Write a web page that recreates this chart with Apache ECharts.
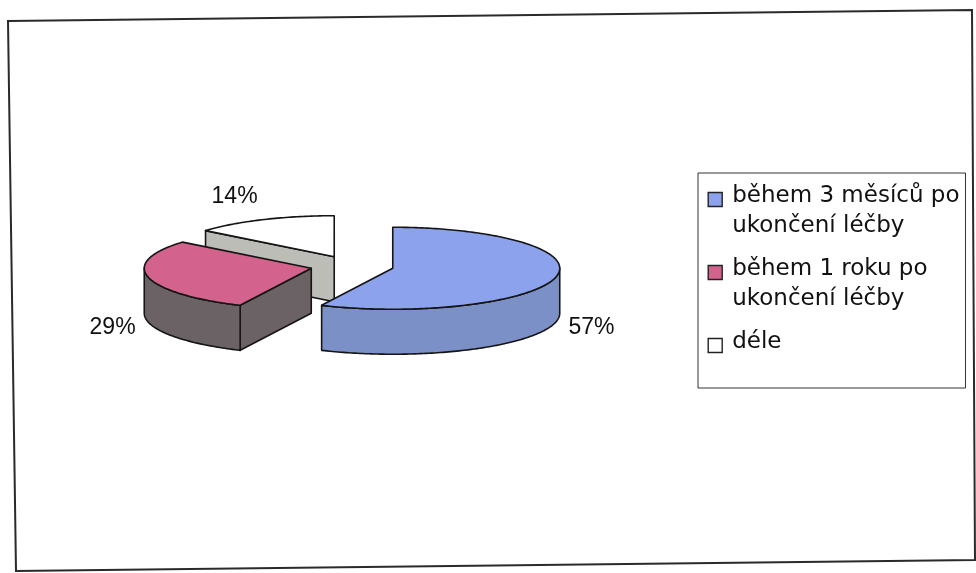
<!DOCTYPE html>
<html>
<head>
<meta charset="utf-8">
<script src="https://cdn.jsdelivr.net/npm/echarts@6/dist/echarts.min.js"></script>
<style>
  html, body { margin: 0; padding: 0; background: #ffffff; }
  #chart { width: 976px; height: 573px; }
</style>
</head>
<body>
<div id="chart"></div>
<script>
// Slice categories and their shares (percent)
const categories = ['během 3 měsíců po ukončení léčby', 'během 1 roku po ukončení léčby', 'déle'];
const shares = [57, 29, 14];

// Palette: top faces and side walls
const topColors = ['#8CA2EC', '#D3628C', '#FFFFFF'];
const sideColors = ['#7B90C6', '#6B6265', '#BCBDB7'];

// 3D pie geometry (pixels)
const pie = {
  cx: 352, cy: 266,     // centre of the un-exploded pie
  rx: 167, ry: 41,      // ellipse radii of the top face
  depth: 45,            // wall height
  explode: 0.25,        // offset of each slice, as a fraction of the radius
  labelGapX: 180,       // horizontal distance from slice centre to label edge
  labelGapY: 66         // vertical distance from slice centre to label middle
};

const total = shares.reduce((a, b) => a + b, 0);
const DEG = Math.PI / 180;

// Point on a slice rim; angles run clockwise from 12 o'clock
function rim(ox, oy, deg, dy) {
  return [ox + pie.rx * Math.sin(deg * DEG), oy - pie.ry * Math.cos(deg * DEG) + (dy || 0)];
}

function arcPoints(ox, oy, a1, a2, dy) {
  const pts = [];
  const n = Math.max(2, Math.ceil(Math.abs(a2 - a1)));
  for (let i = 0; i <= n; i++) pts.push(rim(ox, oy, a1 + (a2 - a1) * i / n, dy));
  return pts;
}

function sliceRenderer(idx) {
  return function (params, api) {
    const value = api.value(0);
    let before = 0;
    for (let i = 0; i < idx; i++) before += shares[i];
    const a1 = before / total * 360;
    const a2 = (before + value) / total * 360;
    const mid = (a1 + a2) / 2;
    const sinM = Math.sin(mid * DEG);
    const cosM = Math.cos(mid * DEG);
    const ox = pie.cx + pie.explode * pie.rx * sinM;
    const oy = pie.cy - pie.explode * pie.ry * cosM;
    const d = pie.depth;
    const edge = { stroke: '#151515', lineWidth: 1.6, lineJoin: 'round' };
    const children = [];

    // radial cut walls that face the viewer
    const cutWall = function (deg) {
      const p = rim(ox, oy, deg);
      return {
        type: 'polygon',
        shape: { points: [[ox, oy], p, [p[0], p[1] + d], [ox, oy + d]] },
        style: Object.assign({ fill: sideColors[idx] }, edge)
      };
    };
    if (Math.sin(a1 * DEG) < -1e-6) children.push(cutWall(a1));
    if (Math.sin(a2 * DEG) > 1e-6) children.push(cutWall(a2));

    // curved outer wall on the front half
    const s = Math.max(a1, 90);
    const e = Math.min(a2, 270);
    if (e > s) {
      children.push({
        type: 'polygon',
        shape: { points: arcPoints(ox, oy, s, e, 0).concat(arcPoints(ox, oy, e, s, d)) },
        style: Object.assign({ fill: sideColors[idx] }, edge)
      });
    }

    // top face
    children.push({
      type: 'polygon',
      shape: { points: [[ox, oy]].concat(arcPoints(ox, oy, a1, a2, 0)) },
      style: Object.assign({ fill: topColors[idx] }, edge)
    });

    // percentage label outside the slice
    children.push({
      type: 'text',
      x: ox + sinM * pie.labelGapX,
      y: oy - cosM * pie.labelGapY + (cosM < 0 ? d : 0),
      style: {
        text: value + '%',
        fontFamily: 'Liberation Sans',
        fontSize: 23,
        fill: '#111111',
        align: sinM > 0 ? 'left' : 'right',
        verticalAlign: 'middle'
      }
    });

    return { type: 'group', children: children };
  };
}

// back slices are drawn first, the front slice last
const drawOrder = [3, 2, 1];

const series = categories.map(function (name, i) {
  return {
    type: 'custom',
    name: name,
    coordinateSystem: 'none',
    z: drawOrder[i],
    silent: true,
    itemStyle: { color: topColors[i] },
    data: [shares[i]],
    renderItem: sliceRenderer(i)
  };
});

const chart = echarts.init(document.getElementById('chart'), null, { renderer: 'canvas' });

chart.setOption({
  backgroundColor: '#ffffff',
  animation: false,
  graphic: [{
    type: 'polygon',
    z: 0,
    shape: { points: [[8, 21], [972, 10], [975, 560], [16, 571]] },
    style: { fill: 'none', stroke: '#2a2a2a', lineWidth: 2 }
  }],
  legend: {
    orient: 'vertical',
    left: 698,
    top: 173,
    padding: [8, 6, 1, 9.5],
    backgroundColor: '#ffffff',
    borderColor: '#333333',
    borderWidth: 1,
    itemWidth: 19,
    itemHeight: 37,
    itemGap: 13,
    selectedMode: false,
    textStyle: { fontFamily: 'DejaVu Sans', fontSize: 23, lineHeight: 30, color: '#111111' },
    formatter: function (name) {
      const k = name.indexOf(' ukončení');
      return k >= 0 ? name.slice(0, k) + '\n' + name.slice(k + 1) : name + '\n';
    },
    data: categories.map(function (name, i) {
      return {
        name: name,
        icon: 'path://M0,0H14V14H0ZM19,37',
        itemStyle: { color: topColors[i], borderColor: '#222222', borderWidth: 1.4 }
      };
    })
  },
  series: series
});
</script>
</body>
</html>
